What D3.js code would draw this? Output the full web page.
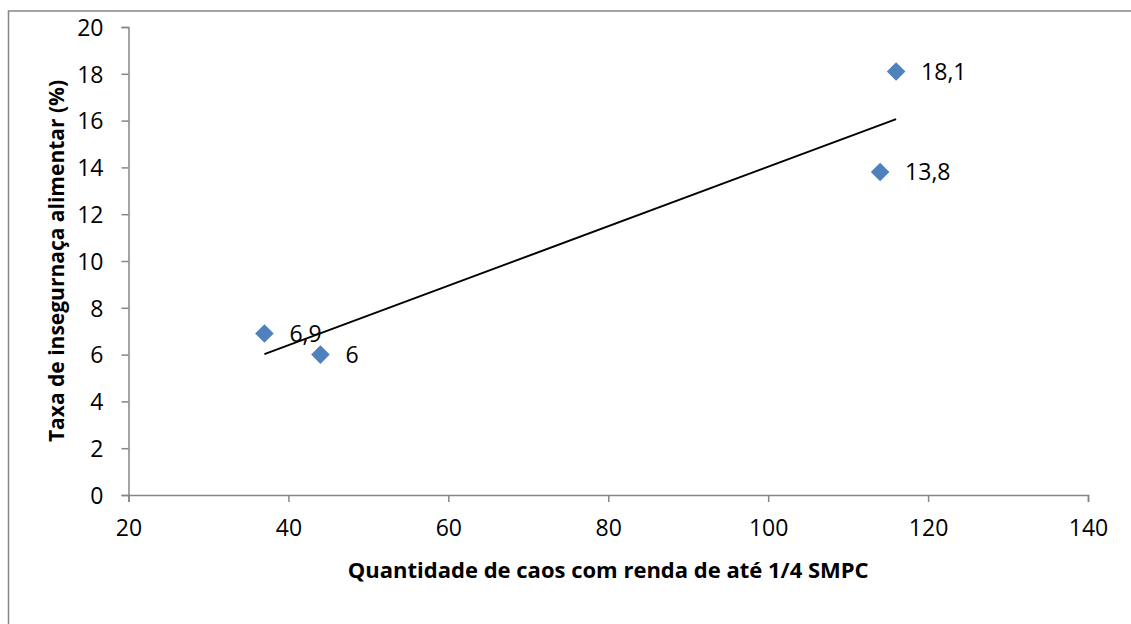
<!DOCTYPE html>
<html>
<head>
<meta charset="utf-8">
<script src="https://cdn.jsdelivr.net/npm/d3@7"></script>
<style>
	body { margin: 0; background: #fff; }
	svg text { font-family: "Open Sans", sans-serif; fill: #000; }
</style>
</head>
<body>
<div id="chart"></div>
<script>
// data
const quantidade = [37, 44, 114, 116];
const taxa = [6.9, 6, 13.8, 18.1];
const rotulos = ["6,9", "6", "13,8", "18,1"];
const xTicks = [20, 40, 60, 80, 100, 120, 140];
const yTicks = [0, 2, 4, 6, 8, 10, 12, 14, 16, 18, 20];

const width = 1131, height = 624;
const margin = { top: 27, right: 43, bottom: 129, left: 128.5 };

const svg = d3.select("#chart").append("svg")
	.attr("width", width)
	.attr("height", height);

// chart area border (cropped on the right and bottom)
svg.append("rect")
	.attr("x", 8.5).attr("y", 11)
	.attr("width", width).attr("height", height)
	.attr("fill", "none")
	.attr("stroke", "#868686")
	.attr("stroke-width", 1.5);

const x = d3.scaleLinear().domain([20, 140]).range([margin.left, width - margin.right]);
const y = d3.scaleLinear().domain([0, 20]).range([height - margin.bottom, margin.top]);

// y axis
const yAxis = svg.append("g")
	.attr("transform", "translate(" + margin.left + ",0)")
	.call(d3.axisLeft(y).tickValues(yTicks).tickSize(7).tickPadding(18).tickFormat(d3.format("d")));
// x axis
const xAxis = svg.append("g")
	.attr("transform", "translate(0," + y(0) + ")")
	.call(d3.axisBottom(x).tickValues(xTicks).tickSize(7).tickPadding(18).tickFormat(d3.format("d")));

[xAxis, yAxis].forEach(a => {
	a.select(".domain").attr("stroke", "#868686").attr("stroke-width", 1.5);
	a.selectAll(".tick line").attr("stroke", "#868686").attr("stroke-width", 1.5);
	a.selectAll(".tick text").style("font-size", "23px").attr("fill", "#000");
});
yAxis.selectAll(".tick text").attr("dy", "0.36em");

// linear trendline (least squares from the points)
const pts = quantidade.map((q, i) => ({ q: q, t: taxa[i], label: rotulos[i] }));
const mx = d3.mean(quantidade), my = d3.mean(taxa);
const slope = d3.sum(pts, d => (d.q - mx) * (d.t - my)) / d3.sum(pts, d => (d.q - mx) * (d.q - mx));
const x0 = d3.min(quantidade), x1 = d3.max(quantidade);
const trend = [x0, x1].map(v => ({ q: v, t: my + slope * (v - mx) }));

svg.append("path")
	.datum(trend)
	.attr("fill", "none")
	.attr("stroke", "#000")
	.attr("stroke-width", 2)
	.attr("d", d3.line().x(d => x(d.q)).y(d => y(d.t)));

// markers
svg.selectAll(".point")
	.data(pts)
	.enter().append("path")
	.attr("class", "point")
	.attr("d", d3.symbol().type(d3.symbolDiamond2).size(220))
	.attr("transform", d => "translate(" + x(d.q) + "," + y(d.t) + ")")
	.attr("fill", "#4F81BD");

// data labels
svg.selectAll(".label")
	.data(pts)
	.enter().append("text")
	.attr("class", "label")
	.attr("x", d => x(d.q) + 25)
	.attr("y", d => y(d.t))
	.attr("dy", "0.36em")
	.style("font-size", "23px")
	.text(d => d.label);

// axis titles
svg.append("text")
	.attr("x", (x(20) + x(140)) / 2)
	.attr("y", 578)
	.attr("text-anchor", "middle")
	.style("font-size", "22px")
	.style("font-weight", "bold")
	.text("Quantidade de caos com renda de até 1/4 SMPC");

svg.append("text")
	.attr("transform", "translate(64," + (y(0) + y(20)) / 2 + ") rotate(-90)")
	.attr("text-anchor", "middle")
	.style("font-size", "21px")
	.style("font-weight", "bold")
	.text("Taxa de insegurnaça alimentar (%)");
</script>
</body>
</html>
